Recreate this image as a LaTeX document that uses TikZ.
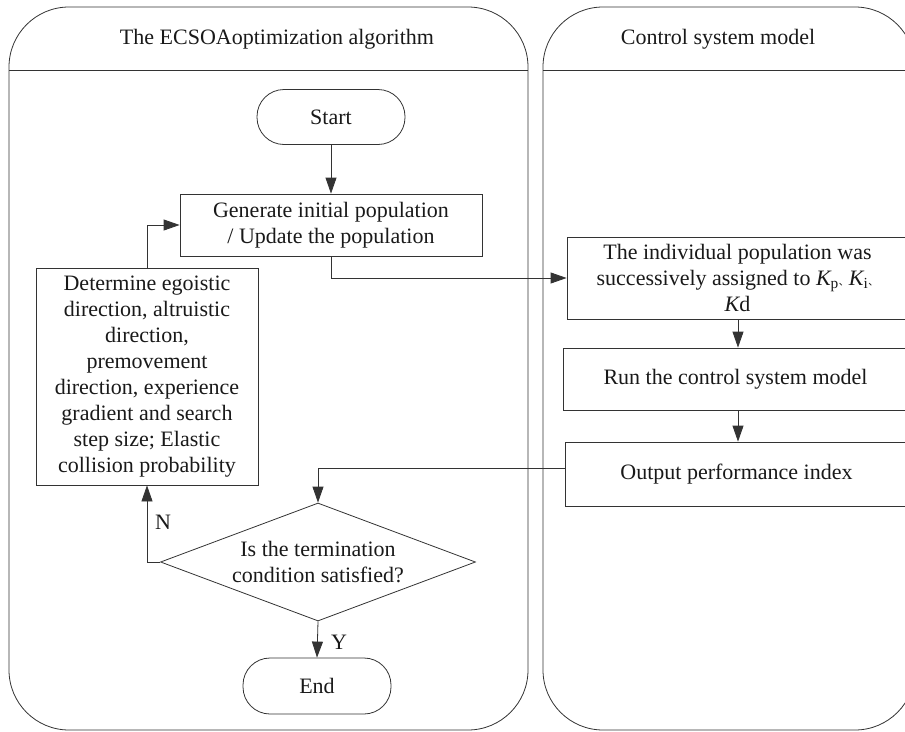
\documentclass[tikz,border=0pt]{standalone}
\usepackage{fontspec}
\setmainfont{Liberation Serif}
\newfontfamily\cjk{Noto Sans CJK SC}
\usepackage{tikz}
\usetikzlibrary{shapes.geometric,arrows.meta}

\begin{document}
\begin{tikzpicture}[x=1pt,y=-1pt,
  every node/.style={font=\fontsize{22}{26}\selectfont,text=black!90},
  lane/.style={draw=black!80,line width=0.8pt,rounded corners=60pt},
  terminal/.style={draw=black!80,line width=0.8pt,rounded corners=27pt,minimum width=148pt,minimum height=55pt},
  process/.style={draw=black!80,line width=0.8pt,align=center,inner sep=0pt},
  decision/.style={draw=black!80,line width=0.8pt,diamond,aspect=2.67,inner xsep=-12pt,inner ysep=-4pt,align=center,minimum width=315pt,minimum height=118pt},
  flow/.style={draw=black!80,line width=0.8pt,-{Triangle[length=16pt,width=11pt]}}]
  \useasboundingbox (0,0) rectangle (905,731);
  \clip (0,0) rectangle (905,731);

  %lanes
  \draw[lane] (9,7) rectangle (528,730);
  \draw[lane] (543,7) rectangle (915,730);
  \draw[draw=black!80,line width=0.8pt] (9,70) -- (528,70) (543,70) -- (915,70);
  \node[at={(277,39)}] (h1) {The ECSOAoptimization algorithm};
  \node[at={(718,39)}] (h2) {Control system model};

  %left lane
  \node[terminal,at={(331,117)}] (start) {Start};
  \node[process,at={(331,225)},minimum width=302pt,minimum height=62pt] (gen) {Generate initial population\\/ Update the population};
  \node[process,at={(147,376.5)},minimum width=222pt,minimum height=217pt] (det) {Determine egoistic\\direction, altruistic\\direction,\\premovement\\direction, experience\\gradient and search\\step size; Elastic\\collision probability};
  \node[decision,at={(318,562)}] (cond) {Is the termination\\condition satisfied?};
  \node[terminal,at={(317,686)},minimum height=56pt] (end) {End};

  %right lane
  \node[process,at={(737.5,278)},minimum width=341pt,minimum height=82pt] (ind) {The individual population was\\successively assigned to {\itshape K}\textsubscript{p}{\cjk\fontsize{10}{10}\selectfont 、}{\itshape K}\textsubscript{i}{\cjk\fontsize{10}{10}\selectfont 、}\\{\itshape K}d};
  \node[process,at={(735.5,379)},minimum width=345pt,minimum height=62pt] (run) {Run the control system model};
  \node[process,at={(736.5,474)},minimum width=343pt,minimum height=64pt] (out) {Output performance index};

  %connectors
  \draw[flow] (start) -- (gen);
  \draw[flow] (gen.south) |- (ind.west);
  \draw[flow] (ind.south -| 738,0) -- (run.north -| 738,0);
  \draw[flow] (run.south -| 738,0) -- (out.north -| 738,0);
  \draw[flow] ([yshift=6pt]out.west) -| (cond.north);
  \draw[flow] (cond.west) -| (det.south);
  \draw[flow] (det.north) |- (gen.west);
  \draw[flow] (cond.south) -- (end.north);
  \node[at={(163,522)}] (n) {N};
  \node[at={(339,642)}] (y) {Y};
\end{tikzpicture}
\end{document}
